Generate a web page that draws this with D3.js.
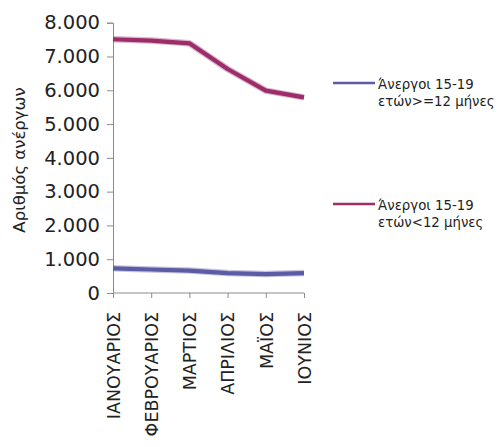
<!DOCTYPE html>
<html><head><meta charset="utf-8">
<script src="https://cdn.jsdelivr.net/npm/d3@7"></script>
<style>body{margin:0;background:#fff}svg{display:block}</style>
</head><body>
<svg id="c" width="499" height="447"></svg>
<script>
const months = ["ΙΑΝΟΥΑΡΙΟΣ","ΦΕΒΡΟΥΑΡΙΟΣ","ΜΑΡΤΙΟΣ","ΑΠΡΙΛΙΟΣ","ΜΑΪΟΣ","ΙΟΥΝΙΟΣ"];
const longTerm = [730, 695, 665, 590, 560, 590];
const shortTerm = [7510, 7470, 7390, 6630, 5990, 5790];
const seriesNames = [["Άνεργοι 15-19","ετών>=12 μήνες"],["Άνεργοι 15-19","ετών<12 μήνες"]];
const seriesColors = ["#5b5ba6","#9c2d6a"];
const yTicks = [0,1000,2000,3000,4000,5000,6000,7000,8000];
const yTitle = "Αριθμός ανέργων";

const svg = d3.select("#c");
const font = "'DejaVu Sans', sans-serif";
const x = d3.scalePoint().domain(months).range([113, 304]);
const y = d3.scaleLinear().domain([0, 8000]).range([293, 22.7]);
const fmt = v => v === 0 ? "0" : d3.format(",")(v).replace(/,/g, ".");

const ya = svg.append("g").attr("transform","translate(113,0)")
  .call(d3.axisLeft(y).tickValues(yTicks).tickFormat(fmt).tickSize(6).tickPadding(7));
ya.select(".domain").attr("stroke","#8c8c8c");
ya.selectAll(".tick line").attr("stroke","#8c8c8c");
ya.selectAll("text").attr("font-family",font).attr("font-size",19.5).attr("fill","#222");

const xa = svg.append("g").attr("transform","translate(0,293)")
  .call(d3.axisBottom(x).tickSize(5).tickPadding(6));
xa.select(".domain").attr("stroke","#8c8c8c").attr("d","M113,0H304");
xa.selectAll(".tick line").attr("stroke","#8c8c8c");
xa.selectAll("text").attr("font-family",font).attr("font-size",17.5).attr("fill","#222")
  .attr("transform","rotate(-90)").attr("text-anchor","end").attr("dy","0.36em")
  .attr("x",-19).attr("y",0);

svg.append("text").attr("transform","translate(25,160) rotate(-90)")
  .attr("text-anchor","middle").attr("font-family",font).attr("font-size",16.5)
  .attr("fill","#222").text(yTitle);

const line = d3.line().x((d,i)=>x(months[i])).y(d=>y(d));
[longTerm, shortTerm].forEach((s,k)=>{
  svg.append("path").datum(s).attr("d",line).attr("fill","none")
    .attr("stroke",seriesColors[k]).attr("stroke-opacity",0.35).attr("stroke-width",6.5)
    .attr("stroke-linejoin","round");
  svg.append("path").datum(s).attr("d",line).attr("fill","none")
    .attr("stroke",seriesColors[k]).attr("stroke-width",4.2).attr("stroke-linejoin","round");
});

const legY = [83, 204];
seriesNames.forEach((n,k)=>{
  const g = svg.append("g");
  g.append("line").attr("x1",333).attr("x2",375).attr("y1",legY[k]).attr("y2",legY[k])
    .attr("stroke",seriesColors[k]).attr("stroke-width",2.5);
  n.forEach((t,j)=>{
    g.append("text").attr("x",378).attr("y",legY[k]+6+j*16.5)
      .attr("font-family",font).attr("font-size",13.3).attr("fill","#222").text(t);
  });
});
</script>
</body></html>
